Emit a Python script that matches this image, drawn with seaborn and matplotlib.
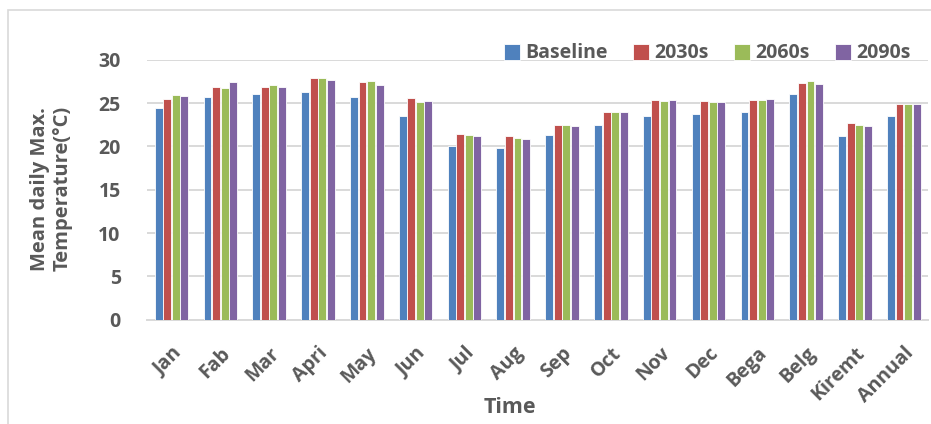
import matplotlib
matplotlib.use("Agg")
import matplotlib.pyplot as plt
import seaborn as sns
import pandas as pd
from matplotlib.patches import Rectangle

categories = ["Jan", "Fab", "Mar", "Apri", "May", "Jun", "Jul", "Aug", "Sep",
              "Oct", "Nov", "Dec", "Bega", "Belg", "Kiremt", "Annual"]
series_names = ["Baseline", "2030s", "2060s", "2090s"]
baseline = [24.4, 25.7, 26.1, 26.3, 25.7, 23.5, 20.05, 19.8, 21.35, 22.5, 23.5, 23.75, 24.0, 26.0, 21.2, 23.5]
s2030 = [25.5, 26.85, 26.85, 27.85, 27.4, 25.6, 21.4, 21.2, 22.5, 24.0, 25.35, 25.2, 25.35, 27.3, 22.7, 24.95]
s2060 = [25.95, 26.7, 27.1, 27.95, 27.55, 25.15, 21.3, 21.0, 22.45, 24.0, 25.2, 25.1, 25.4, 27.5, 22.45, 24.95]
s2090 = [25.8, 27.4, 26.85, 27.7, 27.1, 25.2, 21.25, 20.9, 22.3, 24.0, 25.35, 25.15, 25.5, 27.2, 22.4, 24.9]
colors = ["#4F81BD", "#C0504D", "#9BBB59", "#8064A2"]

rows = []
for name, vals in zip(series_names, [baseline, s2030, s2060, s2090]):
    for cat, v in zip(categories, vals):
        rows.append({"Time": cat, "Scenario": name, "Temp": v})
df = pd.DataFrame(rows)

sns.set_theme(style="white")
plt.rcParams["font.family"] = ["Open Sans", "DejaVu Sans"]
text_color = "#595959"

fig = plt.figure(figsize=(9.31, 4.24), dpi=100)
ax = fig.add_axes([0.158, 0.246, 0.839, 0.613])

sns.barplot(data=df, x="Time", y="Temp", hue="Scenario", order=categories,
            hue_order=series_names, palette=colors, saturation=1, width=0.7,
            gap=0.08, edgecolor="white", linewidth=0.6, ax=ax, zorder=3)

ax.set_ylim(0, 30)
ax.set_yticks([0, 5, 10, 15, 20, 25, 30])
ax.set_xlim(-0.5, len(categories) - 0.5)
ax.grid(axis="y", color="#D9D9D9", linewidth=1.4, zorder=0)
ax.set_axisbelow(True)
for side in ["top", "right", "left"]:
    ax.spines[side].set_visible(False)
ax.spines["bottom"].set_color("#D9D9D9")
ax.spines["bottom"].set_linewidth(1.4)

ax.tick_params(axis="y", length=0, pad=19, labelsize=14, labelcolor=text_color)
ax.tick_params(axis="x", length=0, pad=17, labelsize=14, labelcolor=text_color)
for lbl in ax.get_yticklabels():
    lbl.set_fontweight("bold")
ax.set_xticks(range(len(categories)))
ax.set_xticklabels(categories, rotation=45, ha="right", rotation_mode="anchor",
                   fontweight="bold")

# axis titles placed in figure coordinates
ax.set_xlabel("")
ax.set_ylabel("")
fig.text(0.548, 0.038, "Time", ha="center", va="center", fontsize=15.5,
         fontweight="bold", color=text_color)
fig.text(0.055, 0.555, "Mean daily Max.\nTemperature(°C)", rotation=90,
         ha="center", va="center", multialignment="center", fontsize=14.5,
         fontweight="bold", color=text_color, linespacing=1.15)

handles, labels = ax.get_legend_handles_labels()
ax.legend(handles, labels, loc="upper right", bbox_to_anchor=(1.0, 1.13),
          ncol=4, frameon=False, handlelength=0.85, handleheight=0.85,
          handletextpad=0.25, columnspacing=1.3,
          prop={"weight": "bold", "size": 14}, labelcolor=text_color)

fig.patches.append(Rectangle((8 / 931, -0.1), 1.2, 1.1 - 10 / 424,
                             transform=fig.transFigure, fill=False,
                             edgecolor="#D9D9D9", linewidth=1.2, zorder=-1))

fig.savefig("out.png", dpi=100)
